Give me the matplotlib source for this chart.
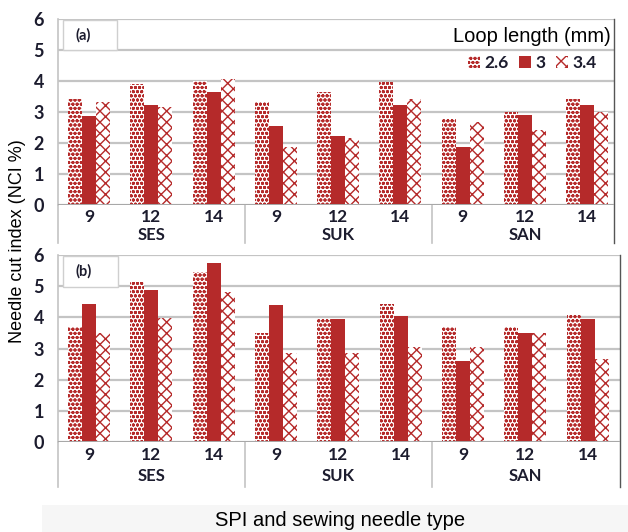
import matplotlib
matplotlib.use("Agg")
import matplotlib.pyplot as plt
from matplotlib.patches import Rectangle
import numpy as np

# ---- data ----
groups = ["SES", "SUK", "SAN"]
spi = ["9", "12", "14"]
loop_labels = ["2.6", "3", "3.4"]

nci_a_26 = [3.40, 3.90, 4.00, 3.30, 3.62, 3.95, 2.75, 3.00, 3.40]
nci_a_30 = [2.87, 3.20, 3.65, 2.55, 2.20, 3.22, 1.87, 2.88, 3.20]
nci_a_34 = [3.30, 3.15, 4.05, 1.85, 2.15, 3.40, 2.68, 2.42, 3.00]

nci_b_26 = [3.68, 5.12, 5.47, 3.50, 3.95, 4.42, 3.68, 3.68, 4.08]
nci_b_30 = [4.42, 4.87, 5.75, 4.39, 3.95, 4.05, 2.60, 3.50, 3.95]
nci_b_34 = [3.50, 3.97, 4.82, 2.85, 2.85, 3.05, 3.05, 3.50, 2.65]

RED = "#b52a2a"
TXT = "#1c1c2e"
GRID = "#c4c4c4"
W, H = 628, 532

plt.rcParams["hatch.linewidth"] = 1.0
fig = plt.figure(figsize=(W / 100, H / 100), dpi=100)


def px_axes(left, right, y0, y6):
    return fig.add_axes([left / W, 1 - y0 / H, (right - left) / W, (y0 - y6) / H])


def panel(ax, v26, v30, v34, xmax, tag, cat_px, grp_px, bottom_px):
    x = np.arange(len(v26))
    w = 0.225
    ax.bar(x - w, v26, w, facecolor="white", edgecolor=RED, hatch="oooo",
           linewidth=0, label=loop_labels[0], zorder=3)
    ax.bar(x, v30, w, color=RED, linewidth=0, label=loop_labels[1], zorder=3)
    ax.bar(x + w, v34, w, facecolor="white", edgecolor=RED, hatch="xxx",
           linewidth=0, label=loop_labels[2], zorder=3)
    ax.set_xlim(-0.5, xmax)
    ax.set_ylim(0, 6)
    ax.set_yticks(range(0, 7))
    ax.yaxis.grid(True, color=GRID, linewidth=1.6, zorder=0)
    ax.set_axisbelow(True)
    for s in ["top", "right", "bottom"]:
        ax.spines[s].set_visible(False)
    ax.spines["left"].set_color(GRID)
    ax.spines["left"].set_linewidth(1.2)
    ax.tick_params(axis="y", length=0, pad=10, labelsize=13, labelcolor=TXT)
    for lab in ax.get_yticklabels():
        lab.set_fontweight("bold")
        lab.set_family("Lato")
    ax.set_xticks([])
    ax.axhline(0, color="#a8a8a8", linewidth=1.4, zorder=4)
    upp = 6 / (ax.get_position().height * H)
    for i in range(len(v26)):
        ax.text(i, -cat_px * upp, spi[i % 3], ha="center", va="center",
                fontsize=12.5, color=TXT, family="Lato", fontweight="bold",
                clip_on=False)
    for g, name in enumerate(groups):
        ax.text(3 * g + 1, -grp_px * upp, name, ha="center", va="center",
                fontsize=12, color=TXT, family="Lato", fontweight="bold", clip_on=False)
    ybot = -bottom_px * upp
    for xs in [-0.5, 2.5, 5.5]:
        ax.plot([xs, xs], [0, ybot], color=GRID, linewidth=1.2, clip_on=False)
    ax.plot([xmax, xmax], [6, ybot], color="#555555", linewidth=1.0, clip_on=False)
    ax.add_patch(Rectangle((0.009, 0.83), 0.098, 0.165, transform=ax.transAxes,
                           facecolor="white", edgecolor="#cfcfcf", linewidth=1.0,
                           zorder=5, clip_on=False))
    ax.text(0.045, 0.912, tag, transform=ax.transAxes, ha="center", va="center",
            fontsize=10.5, color=TXT, family="Lato", fontweight="bold", zorder=6)


ax_a = px_axes(58, 614, 204.7, 18.7)
panel(ax_a, nci_a_26, nci_a_30, nci_a_34, 8.43, "(a)", 12, 30, 38)
ax_b = px_axes(58, 620, 442, 255)
panel(ax_b, nci_b_26, nci_b_30, nci_b_34, 8.52, "(b)", 13, 34, 45)

leg = ax_a.legend(ncol=3, loc="upper right", bbox_to_anchor=(1.01, 1.0),
                  frameon=False, title="Loop length (mm)",
                  title_fontsize=14.5, fontsize=12.5, handlelength=0.7,
                  handleheight=0.7, handletextpad=0.25, columnspacing=0.6,
                  borderaxespad=0.2, borderpad=0.3)
leg._legend_box.align = "center"
for txt in leg.get_texts():
    txt.set_color(TXT)
    txt.set_family("Lato")
    txt.set_fontweight("bold")
leg.get_title().set_family("Liberation Sans")

fig.text(18 / W, 1 - 241 / H, "Needle cut index (NCI %)", rotation=90,
         ha="center", va="center", fontsize=13, family="Liberation Sans", color="black")
fig.patches.append(Rectangle((42 / W, 0), 1 - 42 / W, 27 / H, transform=fig.transFigure,
                             facecolor="#f6f6f6", edgecolor="none", zorder=0))
fig.text(340 / W, 1 - 520 / H, "SPI and sewing needle type", ha="center", va="center",
         fontsize=14.5, family="Liberation Sans", color="black")

fig.savefig("out.png", dpi=100)
